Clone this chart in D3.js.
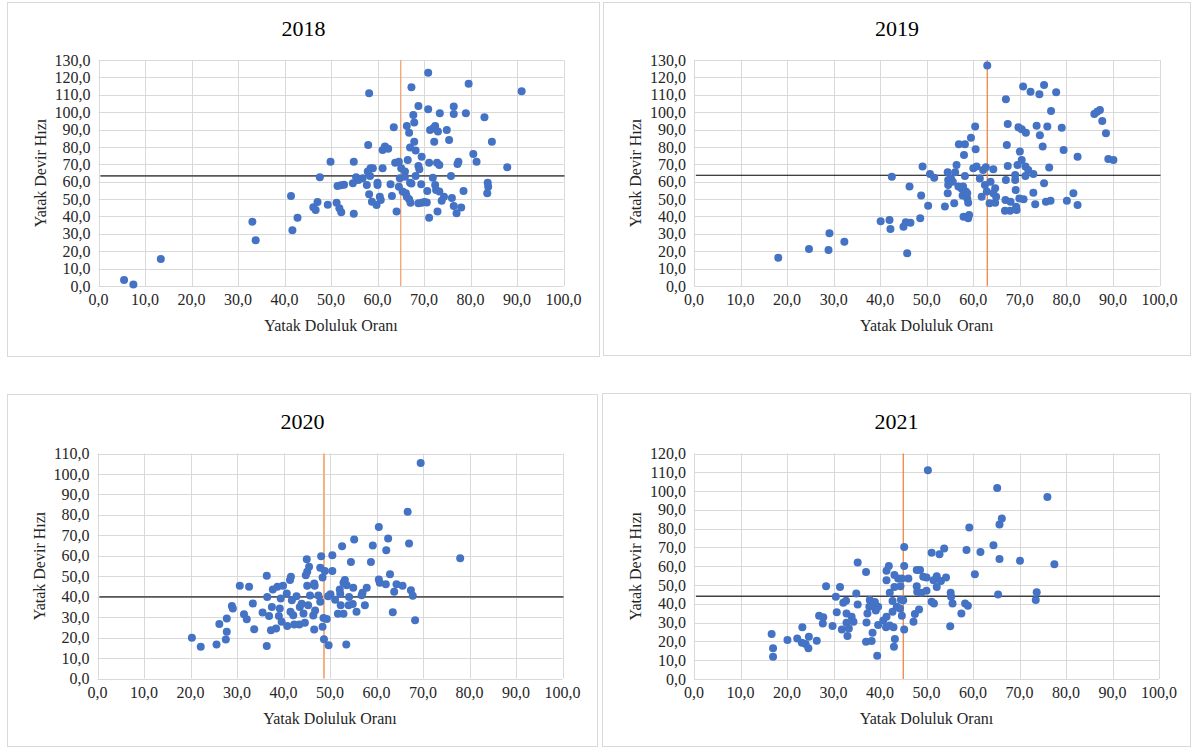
<!DOCTYPE html>
<html><head><meta charset="utf-8">
<script src="https://cdn.jsdelivr.net/npm/d3@7"></script>
<style>body{margin:0;background:#fff}svg{display:block}</style>
</head><body>
<svg id="c" width="1192" height="749"></svg>
<script>
const years = ["2018", "2019", "2020", "2021"];
const xTicks = [0, 10, 20, 30, 40, 50, 60, 70, 80, 90, 100];
const yTicks2018 = [0, 10, 20, 30, 40, 50, 60, 70, 80, 90, 100, 110, 120, 130];
const yTicks2019 = [0, 10, 20, 30, 40, 50, 60, 70, 80, 90, 100, 110, 120, 130];
const yTicks2020 = [0, 10, 20, 30, 40, 50, 60, 70, 80, 90, 100, 110];
const yTicks2021 = [0, 10, 20, 30, 40, 50, 60, 70, 80, 90, 100, 110, 120];
const xLabel = "Yatak Doluluk Oranı";
const yLabel = "Yatak Devir Hızı";
// reference lines (means)
const meanX = [65.0, 63.0, 48.7, 45.0];
const meanY = [63.3, 63.7, 39.9, 44.0];

const data2018 = [[5.5,3.5],[7.5,0.8],[13.4,15.5],[33.1,37.0],[33.8,26.3],[41.4,51.8],[41.7,32.0],[42.8,39.3],
[46.2,45.3],[46.7,43.7],[47.1,48.3],[47.6,62.5],[49.3,46.8],[49.9,71.5],[51.2,47.9],[51.8,44.7],[52.2,42.4],[51.4,57.5],[52.1,57.9],[52.8,58.3],[54.9,71.5],[54.9,41.6],[54.7,59.1],[55.4,62.5],[55.9,61.0],[56.8,62.0],[57.7,58.1],[57.9,65.8],[58.0,81.1],[58.2,110.9],[58.5,67.7],[59.0,67.7],[58.4,63.3],[58.2,52.8],[58.8,48.5],[59.8,46.6],[60.0,58.1],[60.0,59.4],[60.5,51.4],[60.7,49.5],[61.1,67.7],[61.1,78.3],[61.6,80.2],[62.3,79.0],[62.8,58.5],[63.1,51.8],[63.5,91.3],[63.8,70.9],[64.1,42.8],[64.6,71.5],[64.8,62.0],[65.1,67.7],[64.6,57.1],[65.4,54.3],[65.9,65.8],[65.9,62.9],[66.1,53.3],[66.3,92.1],[66.5,72.5],[66.8,88.2],[66.3,51.4],[66.8,49.9],[67.1,47.9],[67.0,59.4],[67.3,59.0],[67.3,114.3],[67.7,98.4],[67.9,94.0],[67.9,83.0],[67.0,79.6],[68.2,77.9],[68.8,103.6],[68.2,63.3],[68.8,69.0],[69.0,67.1],[69.5,74.4],[69.4,58.5],[68.8,47.6],[69.5,47.9],[70.1,48.3],[70.6,48.1],[70.7,54.7],[70.9,122.7],[70.9,101.7],[71.1,39.3],[71.1,70.9],[71.3,89.8],[71.9,62.3],[72.0,90.7],[72.4,92.1],[72.2,83.0],[72.4,58.1],[72.6,55.2],[72.9,42.8],[72.8,70.9],[73.3,69.6],[73.0,88.8],[73.4,99.4],[73.3,54.3],[73.8,49.1],[74.3,51.4],[74.9,89.8],[75.4,84.0],[75.8,63.3],[76.0,50.6],[76.4,103.2],[76.4,99.0],[76.4,46.0],[77.0,41.8],[77.2,70.2],[77.4,71.5],[78.0,45.1],[78.5,54.7],[79.0,99.4],[79.6,116.4],[80.6,75.9],[81.3,71.5],[83.0,97.1],[83.7,59.4],[83.8,57.1],[83.6,53.3],[84.6,83.0],[87.9,68.3],[91.0,112.0]];

const data2019 = [[18.1,16.3],[24.7,21.3],[29.1,30.3],[28.9,20.7],[32.3,25.5],[40.1,37.2],[42.0,37.9],[42.2,32.8],[42.5,62.9],
[45.0,34.1],[45.5,36.6],[46.5,36.4],[45.8,18.8],[46.3,57.2],[48.6,38.9],[48.8,52.0],[49.1,68.7],[50.3,46.2],[50.7,64.4],[51.6,62.3],[53.9,45.8],[54.5,53.3],[54.5,65.4],[54.6,61.0],[54.6,58.1],[55.2,61.9],[55.6,60.0],[55.9,47.6],[56.1,65.4],[56.4,69.6],[56.8,57.2],[56.9,81.5],[57.4,56.2],[57.7,52.0],[58.0,75.4],[58.2,81.5],[57.9,39.9],[58.4,54.3],[58.7,50.4],[58.9,47.9],[59.1,40.9],[58.9,38.9],[58.2,63.3],[57.8,57.2],[58.7,53.3],
[59.5,85.3],[60.4,91.7],[60.5,78.6],[60.0,67.7],[60.7,68.7],[61.4,61.9],[61.8,51.4],[62.1,66.7],[62.7,68.3],[63.0,126.8],[62.5,58.1],[62.9,54.3],[63.5,47.6],[63.7,60.0],[64.3,67.1],[64.7,56.2],[64.9,51.4],[64.7,47.9],[64.3,53.3],[67.0,107.4],[67.2,81.1],[67.4,93.2],[67.4,69.0],[67.0,61.0],[66.9,49.5],[66.8,43.3],[67.9,43.3],[68.0,48.5],[69.0,63.9],[69.0,61.0],[69.1,55.2],[69.2,45.6],[69.3,43.7],[69.5,69.6],[69.7,91.3],[70.0,77.3],[69.9,50.4],[70.4,90.1],[70.4,72.5],[70.7,114.7],[70.8,49.9],[71.2,68.7],[71.3,88.2],[71.2,63.3],[71.8,66.7],[72.3,111.8],[72.9,53.7],[72.9,64.4],[73.3,47.0],[73.6,92.2],[74.2,110.3],[74.3,86.7],[74.9,80.2],[75.2,115.6],[75.2,59.1],[75.6,48.5],[75.9,91.7],[76.3,68.1],[76.6,49.1],[76.7,100.7],[77.8,111.4],[79.0,91.1],[79.4,78.3],[80.1,49.1],[81.5,53.3],[82.4,46.6],[82.4,74.4],[86.0,99.0],[86.6,100.3],[87.2,101.3],[87.7,94.9],[88.5,87.9],[89.0,73.1],[90.1,72.5]];

const data2020 = [[20.3,19.9],[22.2,15.5],[25.6,16.6],[26.2,26.6],[27.6,19.1],[27.8,22.8],[27.8,29.3],[28.9,35.4],[29.1,34.2],[30.6,45.3],[31.5,31.4],[32.1,29.0],[32.6,44.8],[33.4,36.7],[33.7,24.1],[35.5,32.3],[36.4,50.2],[36.5,39.9],[36.4,15.9],[36.9,30.6],[37.5,35.0],[37.7,43.5],[37.3,23.6],[38.4,24.4],[38.7,44.8],[39.0,30.6],[39.4,39.1],[39.2,34.2],[39.6,27.7],[39.9,45.3],[40.7,41.6],[40.8,25.7],[41.4,48.1],[41.6,49.7],[41.8,38.3],[41.5,32.6],[42.1,30.9],[42.3,26.4],[42.8,40.2],[43.4,26.4],[43.5,35.0],
[44.3,31.8],[44.6,27.3],[43.9,36.6],[45.0,58.3],[45.5,54.6],[45.1,52.2],[44.8,50.5],[45.1,45.3],[46.6,46.5],[46.7,45.3],[46.6,24.0],[46.4,30.8],[46.8,33.2],[45.7,40.6],[47.5,40.6],[47.9,37.5],[45.3,35.8],
[48.1,59.8],[47.9,54.1],[48.4,49.4],[48.9,52.5],[50.5,60.3],[50.5,52.6],[52.6,64.7],[55.2,68.0],[54.5,57.0],[53.2,48.1],[52.9,46.8],[53.6,45.6],[52.1,43.5],[55.0,44.4],[57.9,44.4],[57.0,41.9],[56.8,40.7],[58.8,57.0],[59.2,65.0],[60.5,74.1],[60.5,48.4],[60.7,46.8],[62.0,46.1],[62.1,62.7],[62.5,68.5],[62.9,51.0],[63.8,42.4],[63.5,32.4],[64.3,46.1],[65.6,45.3],[66.7,81.5],[67.0,66.0],[67.4,43.2],[67.8,40.4],[68.3,28.5],[69.5,105.4],[78.0,58.8],[57.5,35.8],[55.7,32.6],[54.9,36.4],[54.0,35.8],[52.9,31.6],[52.3,35.8],[51.7,31.6],[51.1,38.5],[50.1,41.2],[49.6,40.2],[54.1,39.9],[53.5,16.6],[49.7,16.3],[48.7,19.2],[48.4,25.3],[48.6,29.6],[49.3,29.1],[52.2,41.4]];

const data2021 = [[16.7,23.9],[17.0,16.3],[17.0,11.9],[20.1,20.7],[22.2,21.6],[23.3,27.5],[23.2,19.3],[24.0,18.6],[24.6,16.3],[24.7,22.5],[26.4,20.4],[26.9,33.7],[27.8,32.8],[27.7,29.6],[28.4,49.4],[29.8,28.2],[30.5,43.8],[30.7,35.5],[31.4,49.0],[31.8,26.3],[32.1,40.6],[32.7,41.7],[32.8,34.9],[32.8,30.0],[33.0,22.9],[33.3,26.9],[33.9,33.1],[34.3,30.5],[34.9,45.5],[35.2,62.0],[35.2,39.7],[37.0,56.9],[37.1,30.1],[37.3,34.8],[37.0,19.8],[37.8,42.0],[37.7,38.4],[38.2,20.2],[38.4,24.6],[38.6,39.3],[38.9,41.0],[39.1,36.5],[39.4,12.4],[39.6,28.8],[39.6,38.4],
[41.4,52.6],[41.4,57.6],[41.9,60.1],[41.4,33.1],[40.7,31.1],[41.3,27.6],[42.1,28.5],[42.9,27.6],[42.1,45.9],[42.7,41.5],[42.7,35.8],[43.1,55.3],[43.1,49.0],[43.2,21.3],[43.0,17.2],[43.6,38.4],[43.9,53.5],[44.3,37.5],[44.4,49.4],[44.7,53.5],[44.5,42.2],[45.0,41.9],[44.7,33.6],[45.2,70.3],[45.2,60.1],[45.2,26.4],[46.1,53.5],[47.2,30.5],[47.5,34.6],[47.9,49.4],[47.9,58.0],[48.0,46.4],[48.4,37.0],[48.6,58.0],[48.9,45.9],[49.3,54.4],[50.0,46.9],[50.3,111.1],[50.0,54.0],[51.1,67.2],[51.1,41.1],[51.5,52.6],[51.6,40.2],[52.2,54.7],[52.2,49.0],[52.8,66.4],[53.1,52.2],[53.8,69.5],[54.2,54.0],[55.2,45.9],[55.3,43.8],[55.6,40.2],[55.1,28.1],[57.5,34.9],[58.3,40.2],[58.9,39.0],[58.6,68.6],[59.2,80.6],[60.4,55.8],[61.6,67.6],[64.4,71.2],[65.2,101.7],[65.4,45.0],[65.7,63.8],[65.7,82.2],[66.2,85.4],[70.1,62.9],[73.5,42.0],[73.7,46.1],[76.0,96.9],[77.5,61.1]];

const allData = [data2018, data2019, data2020, data2021];
const allYTicks = [yTicks2018, yTicks2019, yTicks2020, yTicks2021];

// layout (positions & styles)
const layout = [
  {box:[7.5,2.5,599.5,356.5], plot:[98.5,60,563.5,286], titleY:36, h:{c:"#595959",w:1.8}, v:{c:"#F29A62",w:1.2}},
  {box:[603.5,2.5,1190.5,355.5], plot:[694,60,1159.5,286], titleY:36, h:{c:"#000000",w:1.1}, v:{c:"#ED7D31",w:1.2}},
  {box:[7.5,394.5,597.5,746.5], plot:[97.5,453.5,562.5,678.5], titleY:429, h:{c:"#595959",w:1.6}, v:{c:"#F4B183",w:2}},
  {box:[602.5,393.5,1190.5,746.5], plot:[694,453.5,1159,679], titleY:429, h:{c:"#404040",w:1.6}, v:{c:"#ED7D31",w:1.2}}
];

const fmt = v => v.toFixed(1).replace(".", ",");
const FONT = "'Liberation Serif','Times New Roman',serif";
const svg = d3.select("#c");

years.forEach((yr, i) => {
  const L = layout[i];
  const yTicks = allYTicks[i];
  const g = svg.append("g");
  const [bx0, by0, bx1, by1] = L.box;
  g.append("rect").attr("x", bx0).attr("y", by0).attr("width", bx1 - bx0).attr("height", by1 - by0)
    .attr("fill", "#fff").attr("stroke", "#d9d9d9").attr("stroke-width", 1);

  const [px0, py0, px1, py1] = L.plot;
  const x = d3.scaleLinear().domain([xTicks[0], xTicks[xTicks.length - 1]]).range([px0, px1]);
  const y = d3.scaleLinear().domain([yTicks[0], yTicks[yTicks.length - 1]]).range([py1, py0]);

  // grid
  g.append("g").selectAll("line").data(yTicks).join("line")
    .attr("x1", px0).attr("x2", px1).attr("y1", d => Math.round(y(d)) + 0.5).attr("y2", d => Math.round(y(d)) + 0.5)
    .attr("stroke", "#d9d9d9").attr("stroke-width", 1);
  g.append("g").selectAll("line").data(xTicks).join("line")
    .attr("y1", py0).attr("y2", py1).attr("x1", d => Math.round(x(d)) + 0.5).attr("x2", d => Math.round(x(d)) + 0.5)
    .attr("stroke", "#d9d9d9").attr("stroke-width", 1);

  // tick labels
  g.append("g").selectAll("text").data(yTicks).join("text")
    .attr("x", px0 - 8).attr("y", d => y(d)).attr("dy", "0.35em").attr("text-anchor", "end")
    .attr("font-family", FONT).attr("font-size", 16).attr("fill", "#262626").text(fmt);
  g.append("g").selectAll("text").data(xTicks).join("text")
    .attr("x", d => x(d)).attr("y", py1 + 19).attr("text-anchor", "middle")
    .attr("font-family", FONT).attr("font-size", 16).attr("fill", "#262626").text(fmt);

  // axis titles
  g.append("text").attr("x", (px0 + px1) / 2).attr("y", py1 + 45).attr("text-anchor", "middle")
    .attr("font-family", FONT).attr("font-size", 16).attr("fill", "#262626").text(xLabel);
  g.append("text").attr("transform", `translate(${px0 - 53},${(py0 + py1) / 2}) rotate(-90)`)
    .attr("text-anchor", "middle").attr("font-family", FONT).attr("font-size", 16).attr("fill", "#262626").text(yLabel);

  // title
  g.append("text").attr("x", (bx0 + bx1) / 2).attr("y", L.titleY).attr("text-anchor", "middle")
    .attr("font-family", FONT).attr("font-size", 22).attr("fill", "#000").text(yr);

  // mean lines
  g.append("line").attr("x1", x(0.4)).attr("x2", x(100) + 1).attr("y1", y(meanY[i])).attr("y2", y(meanY[i]))
    .attr("stroke", L.h.c).attr("stroke-width", L.h.w);
  g.append("line").attr("x1", x(meanX[i])).attr("x2", x(meanX[i])).attr("y1", y(yTicks[yTicks.length - 1])).attr("y2", y(0))
    .attr("stroke", L.v.c).attr("stroke-width", L.v.w);

  // points
  g.append("g").selectAll("circle").data(allData[i]).join("circle")
    .attr("cx", d => x(d[0])).attr("cy", d => y(d[1])).attr("r", 4)
    .attr("fill", "#4472C4");
});
</script>
</body></html>
